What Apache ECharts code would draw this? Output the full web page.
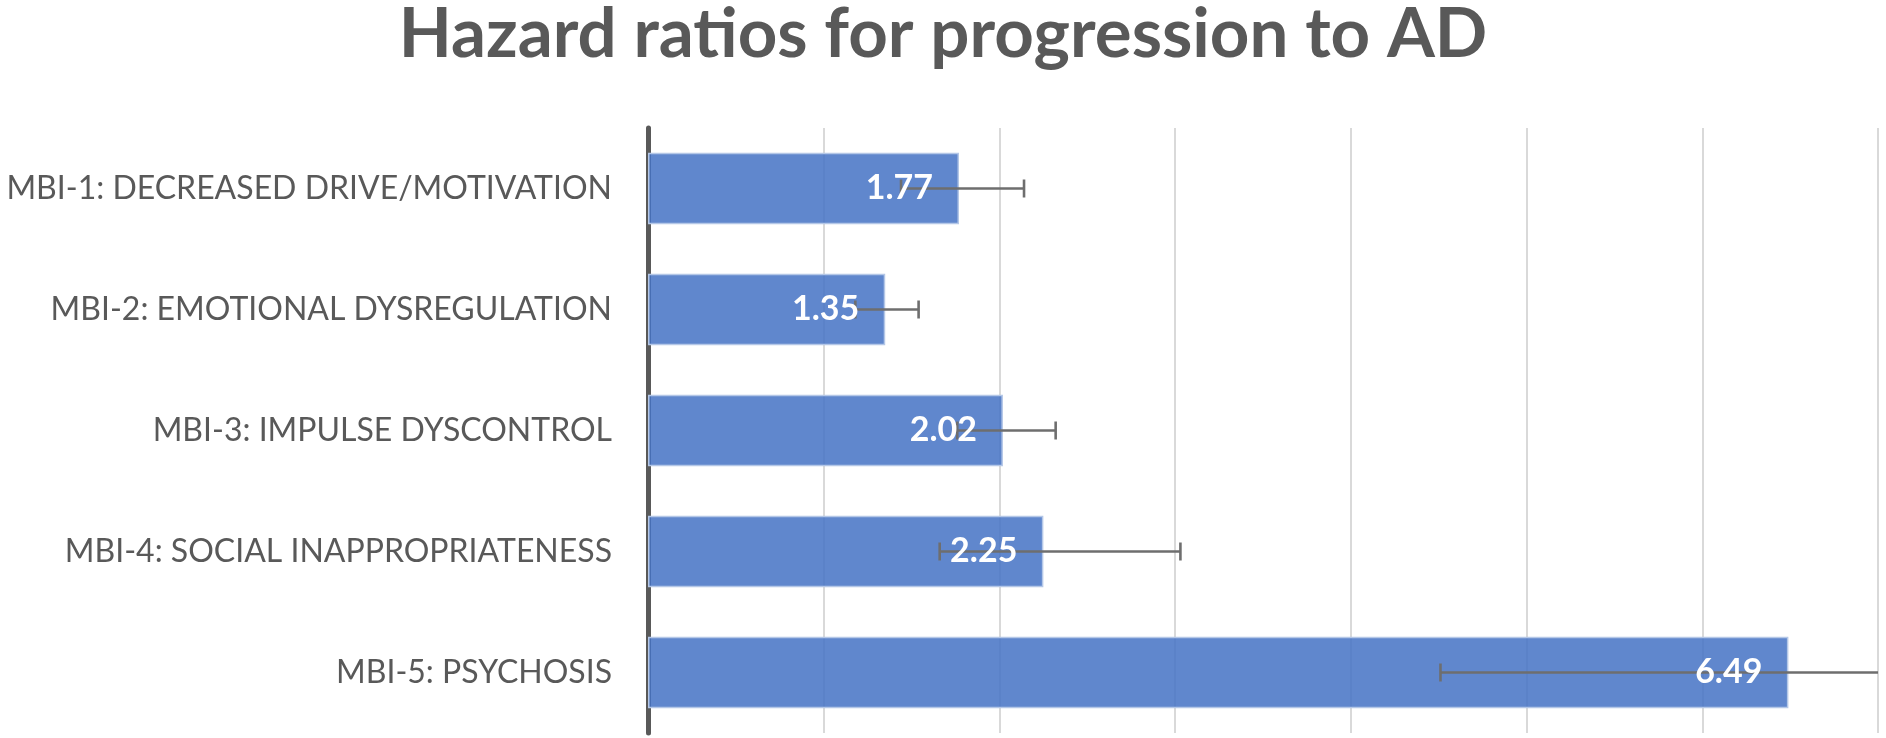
<!DOCTYPE html>
<html>
<head>
<meta charset="utf-8">
<script src="https://cdn.jsdelivr.net/npm/echarts@6/dist/echarts.min.js"></script>
<style>
html,body{margin:0;padding:0;background:#fff;}
#chart{width:1886px;height:738px;}
</style>
</head>
<body>
<div id="chart"></div>
<script>
var categories = [
  'MBI-1: DECREASED DRIVE/MOTIVATION',
  'MBI-2: EMOTIONAL DYSREGULATION',
  'MBI-3: IMPULSE DYSCONTROL',
  'MBI-4: SOCIAL INAPPROPRIATENESS',
  'MBI-5: PSYCHOSIS'
];
var hazardRatios = [1.77, 1.35, 2.02, 2.25, 6.49];
var ciLow = [1.44, 1.18, 1.76, 1.66, 4.51];
var ciHigh = [2.14, 1.54, 2.32, 3.03, 9.34];
var axisMin = 0, axisMax = 7, axisInterval = 1;

var errorData = categories.map(function (c, i) { return [i, ciLow[i], ciHigh[i]]; });

var chart = echarts.init(document.getElementById('chart'));
var FONT = 'Lato, "Open Sans", sans-serif';

chart.setOption({
  animation: false,
  backgroundColor: '#ffffff',
  title: {
    text: 'Hazard ratios for progression to AD',
    left: 'center',
    top: 0,
    padding: [0, 0, 0, 28],
    textStyle: { fontFamily: FONT, fontWeight: 'bold', fontSize: 69, color: '#595959' }
  },
  grid: { left: 648, right: 8, top: 128, bottom: 5, containLabel: false, outerBoundsMode: 'none' },
  xAxis: {
    type: 'value',
    min: axisMin, max: axisMax, interval: axisInterval,
    axisLine: { show: false },
    axisTick: { show: false },
    axisLabel: { show: false },
    splitLine: { show: true, lineStyle: { color: '#d0d0d0', width: 1.6 } }
  },
  yAxis: {
    type: 'category',
    data: categories,
    inverse: true,
    axisLine: { show: true, lineStyle: { color: '#595959', width: 5 } },
    axisTick: { show: false },
    axisLabel: { margin: 36, fontFamily: FONT, fontSize: 32, color: '#595959' }
  },
  series: [
    {
      type: 'bar',
      data: hazardRatios,
      barWidth: '59%',
      barGap: '-100%',
      z: 2,
      itemStyle: { color: 'rgba(68,114,196,0.85)', borderColor: 'rgba(180,199,231,1)', borderWidth: 1.5 },
      label: { show: false }
    },
    {
      type: 'custom',
      z: 3,
      data: errorData,
      encode: { x: [1, 2], y: 0 },
      renderItem: function (params, api) {
        var cat = api.value(0);
        var pLo = api.coord([api.value(1), cat]);
        var pHi = api.coord([api.value(2), cat]);
        var cs = params.coordSys;
        var xMax = cs.x + cs.width;
        var clipped = pHi[0] > xMax;
        var x2 = Math.min(pHi[0], xMax);
        var y = pLo[1];
        var h = 9;
        var st = { stroke: '#6e6e6e', lineWidth: 2.6 };
        var children = [
          { type: 'line', shape: { x1: pLo[0], y1: y, x2: x2, y2: y }, style: st },
          { type: 'line', shape: { x1: pLo[0], y1: y - h, x2: pLo[0], y2: y + h }, style: st }
        ];
        if (!clipped) {
          children.push({ type: 'line', shape: { x1: x2, y1: y - h, x2: x2, y2: y + h }, style: st });
        }
        return { type: 'group', children: children };
      }
    },
    {
      type: 'bar',
      data: hazardRatios,
      barWidth: '59%',
      barGap: '-100%',
      z: 5,
      silent: true,
      itemStyle: { color: 'rgba(0,0,0,0)' },
      label: {
        show: true,
        position: 'insideRight',
        distance: 26,
        fontFamily: FONT,
        fontWeight: 'bold',
        fontSize: 34,
        color: '#ffffff',
        formatter: function (p) { return p.value.toFixed(2); }
      }
    }
  ]
});
</script>
</body>
</html>
